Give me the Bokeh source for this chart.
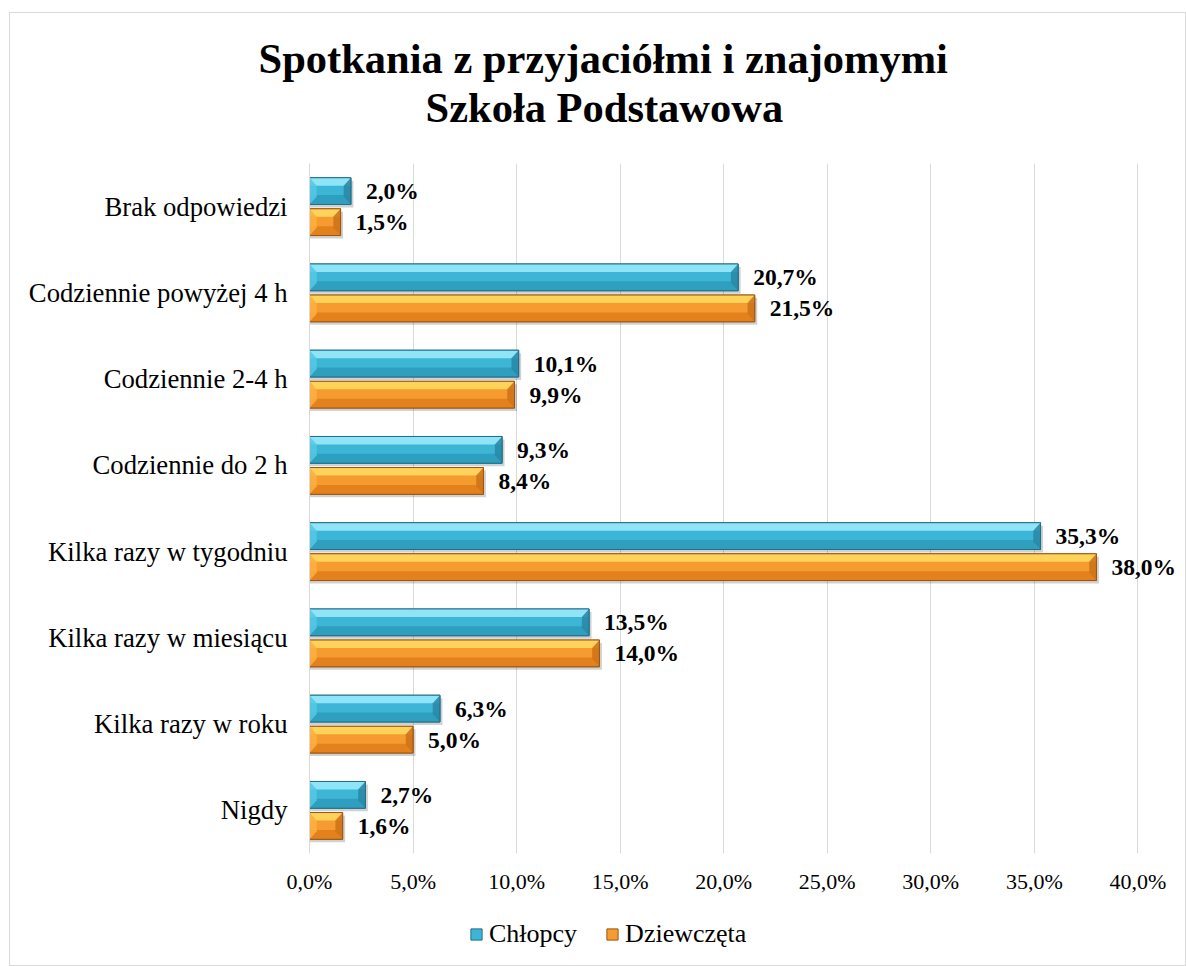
from bokeh.plotting import figure
from bokeh.layouts import column
from bokeh.models import (ColumnDataSource, Range1d, FixedTicker, Legend, LegendItem,
                          LabelSet, Title)
from bokeh.embed import file_html
from bokeh.resources import INLINE

# ---------------- data ----------------
categories = ["Brak odpowiedzi", "Codziennie powyżej 4 h", "Codziennie 2-4 h",
              "Codziennie do 2 h", "Kilka razy w tygodniu", "Kilka razy w miesiącu",
              "Kilka razy w roku", "Nigdy"]
chlopcy = [2.0, 20.7, 10.1, 9.3, 35.3, 13.5, 6.3, 2.7]
dziewczeta = [1.5, 21.5, 9.9, 8.4, 38.0, 14.0, 5.0, 1.6]
series_names = ["Chłopcy", "Dziewczęta"]
x_ticks = [0, 5, 10, 15, 20, 25, 30, 35, 40]
title_lines = ["Spotkania z przyjaciółmi i znajomymi", "Szkoła Podstawowa"]

# ---------------- style ----------------
FONT = "Liberation Serif"
n = len(categories)
ypos = [n - 1 - i for i in range(n)]  # first category at top
bar_h = 0.31
offsets = [0.18, -0.18]
palettes = [
    dict(light="#8fe4f7", mid="#3db6d6", lower="#2f9fc0", dark="#216f88",
         left="#55c8e4", right="#2a8aa8"),
    dict(light="#ffd25a", mid="#f59b30", lower="#e3821d", dark="#9a5614",
         left="#fbb040", right="#cf7418"),
]
W = 1175
H_MAIN = 900
H_LEG = 52

p = figure(width=W, height=H_MAIN, output_backend="svg", toolbar_location=None,
           x_range=Range1d(0, 42.3), y_range=Range1d(-0.5, n - 0.5),
           title_location=None,
           min_border_left=299, min_border_right=0,
           min_border_top=150, min_border_bottom=60)
p.outline_line_color = None
p.background_fill_color = "white"
p.border_fill_color = "white"

# axes
p.xaxis.ticker = FixedTicker(ticks=x_ticks)
p.xaxis.major_label_overrides = {t: f"{t:.1f}".replace(".", ",") + "%" for t in x_ticks}
p.xaxis.axis_line_color = None
p.xaxis.major_tick_line_color = None
p.xaxis.minor_tick_line_color = None
p.xaxis.major_tick_out = 0
p.xaxis.major_tick_in = 0
p.xaxis.major_label_standoff = 15
p.xaxis.major_label_text_font = FONT
p.xaxis.major_label_text_font_size = "22px"
p.xaxis.major_label_text_color = "#000000"

p.yaxis.ticker = FixedTicker(ticks=ypos)
p.yaxis.major_label_overrides = {y: c for y, c in zip(ypos, categories)}
p.yaxis.axis_line_color = "#d9d9d9"
p.yaxis.axis_line_width = 1
p.yaxis.major_tick_line_color = None
p.yaxis.minor_tick_line_color = None
p.yaxis.major_tick_out = 0
p.yaxis.major_tick_in = 0
p.yaxis.major_label_standoff = 22
p.yaxis.major_label_text_font = FONT
p.yaxis.major_label_text_font_size = "26.7px"
p.yaxis.major_label_text_color = "#000000"

p.xgrid.ticker = FixedTicker(ticks=x_ticks)
p.xgrid.grid_line_color = "#d9d9d9"
p.xgrid.grid_line_width = 1
p.ygrid.grid_line_color = None

# legend strip (separate small figure under the chart, frame aligned with the chart)
pl = figure(width=W, height=H_LEG, output_backend="svg", toolbar_location=None,
            x_range=Range1d(0, 1), y_range=Range1d(0, 1), title_location=None,
            min_border_left=0, min_border_right=0, min_border_top=0, min_border_bottom=0)
pl.axis.visible = False
pl.grid.visible = False
pl.outline_line_color = None
pl.border_fill_color = "white"

legend_items = []
for values, off, pal, name in zip([chlopcy, dziewczeta], offsets, palettes, series_names):
    yc = [y + off for y in ypos]
    top = [y + bar_h / 2 for y in yc]
    bot = [y - bar_h / 2 for y in yc]
    zero = [0] * n
    # shadow
    p.quad(left=zero, right=[v + 0.12 for v in values],
           top=[t - 0.035 for t in top], bottom=[b - 0.035 for b in bot],
           fill_color="#000000", fill_alpha=0.18, line_color=None)
    p.quad(left=zero, right=values, top=top, bottom=bot,
           fill_color=pal["mid"], line_color=pal["dark"])
    # top highlight band
    p.quad(left=zero, right=values, top=top, bottom=[t - bar_h * 0.3 for t in top],
           fill_color=pal["light"], line_color=None)
    # lower darker band
    p.quad(left=zero, right=values, top=[b + bar_h * 0.35 for b in bot], bottom=bot,
           fill_color=pal["lower"], line_color=None)
    # bevel wedges at both ends
    d = [min(0.35, v / 2) for v in values]
    lx, ly, rx, ry = [], [], [], []
    for v, dd, t, b, c in zip(values, d, top, bot, yc):
        lx.append([0, dd, dd, 0])
        ly.append([t, c + bar_h * 0.2, c - bar_h * 0.2, b])
        rx.append([v, v - dd, v - dd, v])
        ry.append([t, c + bar_h * 0.2, c - bar_h * 0.2, b])
    p.patches(xs=lx, ys=ly, fill_color=pal["left"], fill_alpha=0.85, line_color=None)
    p.patches(xs=rx, ys=ry, fill_color=pal["right"], fill_alpha=0.9, line_color=None)
    # outline
    p.quad(left=zero, right=values, top=top, bottom=bot,
           fill_color=None, line_color=pal["dark"], line_width=1)

    src = ColumnDataSource(dict(x=values, y=yc,
                                text=[f"{v:.1f}".replace(".", ",") + "%" for v in values]))
    p.add_layout(LabelSet(x="x", y="y", text="text", source=src, x_offset=15,
                          text_baseline="middle", text_align="left",
                          text_font=FONT, text_font_style="bold",
                          text_font_size="23.5px", text_color="#000000"))

    # swatch renderer for the legend: zero-size quads lying outside the strip's range
    sw = pl.quad(left=values, right=values, top=values, bottom=values,
                 fill_color=pal["mid"], line_color=pal["dark"])
    legend_items.append(LegendItem(label=name, renderers=[sw]))

legend = Legend(items=legend_items, orientation="horizontal", location=(160, 16),
                label_text_font=FONT, label_text_font_size="26px",
                label_text_color="#000000",
                glyph_width=14, glyph_height=14, label_standoff=6, spacing=28,
                padding=0, margin=0,
                border_line_color=None, background_fill_alpha=0)
pl.add_layout(legend, "center")

# titles: spacer first (next to the frame), then line 2, then line 1
p.add_layout(Title(text=" ", standoff=0, text_font=FONT, text_font_size="28px"), "above")
for line, off in zip(reversed(title_lines), [116, -51]):
    p.add_layout(Title(text=line, align="left", offset=off, standoff=0,
                       text_font=FONT, text_font_style="bold", text_font_size="42.5px",
                       text_color="#000000"), "above")

layout = column(p, pl, spacing=0,
                styles={"border": "1px solid #d9d9d9", "margin-left": "9px",
                        "margin-top": "12px"})
open("out.html", "w").write(file_html(layout, INLINE))
